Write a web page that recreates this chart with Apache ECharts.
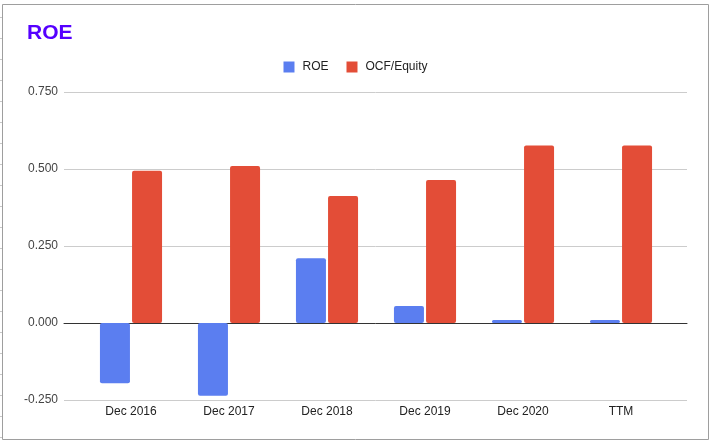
<!DOCTYPE html>
<html>
<head>
<meta charset="utf-8">
<script src="https://cdn.jsdelivr.net/npm/echarts@6/dist/echarts.min.js"></script>
<style>
  html, body { margin: 0; padding: 0; background: #fff; }
  #chart { width: 711px; height: 444px; }
</style>
</head>
<body>
<div id="chart"></div>
<script>
const categories = ['Dec 2016', 'Dec 2017', 'Dec 2018', 'Dec 2019', 'Dec 2020', 'TTM'];
const roeValues = [-0.196, -0.236, 0.210, 0.055, 0.010, 0.010];
const ocfEquityValues = [0.494, 0.510, 0.412, 0.464, 0.576, 0.576];
const yMin = -0.25, yMax = 0.75, yStep = 0.25;

const chart = echarts.init(document.getElementById('chart'), null, { renderer: 'canvas' });

const font = 'Arial, "Liberation Sans", sans-serif';
const borderGraphics = [
  { type: 'rect', shape: { x: 2.5, y: 4.5, width: 706, height: 435 }, style: { fill: 'none', stroke: '#9e9e9e', lineWidth: 1 }, silent: true }
];
for (let y = 17; y < 440; y += 21) {
  borderGraphics.push({ type: 'line', shape: { x1: 0, y1: y + 0.5, x2: 2, y2: y + 0.5 }, style: { stroke: '#c8c8c8', lineWidth: 1 }, silent: true });
}

chart.setOption({
  animation: false,
  backgroundColor: '#ffffff',
  title: {
    text: 'ROE',
    left: 22,
    top: 18,
    textStyle: { color: '#5500ff', fontSize: 21, fontWeight: 'bold', fontFamily: font }
  },
  legend: {
    data: ['ROE', 'OCF/Equity'],
    top: 56,
    left: 'center',
    icon: 'rect',
    itemWidth: 11,
    itemHeight: 11,
    itemGap: 18,
    textStyle: { color: '#222', fontSize: 12, fontFamily: font, padding: [0, 0, 0, 3] }
  },
  graphic: borderGraphics,
  grid: [
    { left: 64, right: 24, top: 92, bottom: 44 },
    { left: 82, right: 41, top: 92, bottom: 44 }
  ],
  xAxis: [
    {
      type: 'category', gridIndex: 0, data: categories,
      axisLine: { show: true, onZero: true, lineStyle: { color: '#333', width: 1 } },
      axisTick: { show: false }, axisLabel: { show: false }, splitLine: { show: false }
    },
    {
      type: 'category', gridIndex: 1, data: categories,
      axisLine: { show: false, onZero: false },
      axisTick: { show: false },
      axisLabel: { color: '#222', fontSize: 12, fontFamily: font, margin: 6 }
    }
  ],
  yAxis: [
    {
      type: 'value', gridIndex: 0, min: yMin, max: yMax, interval: yStep,
      axisLine: { show: false }, axisTick: { show: false },
      axisLabel: { color: '#444', fontSize: 12, fontFamily: font, margin: 6, formatter: v => v.toFixed(3) },
      splitLine: { lineStyle: { color: '#cccccc', width: 1 } }
    },
    {
      type: 'value', gridIndex: 1, min: yMin, max: yMax, interval: yStep,
      show: false, splitLine: { show: false }
    }
  ],
  series: [
    {
      name: 'ROE', type: 'bar', xAxisIndex: 1, yAxisIndex: 1,
      data: roeValues, barWidth: 30, barGap: '7%',
      itemStyle: { color: '#5b7ef0', borderRadius: 2 }
    },
    {
      name: 'OCF/Equity', type: 'bar', xAxisIndex: 1, yAxisIndex: 1,
      data: ocfEquityValues, barWidth: 30, barGap: '7%',
      itemStyle: { color: '#e34d37', borderRadius: 2 }
    }
  ]
});
</script>
</body>
</html>
